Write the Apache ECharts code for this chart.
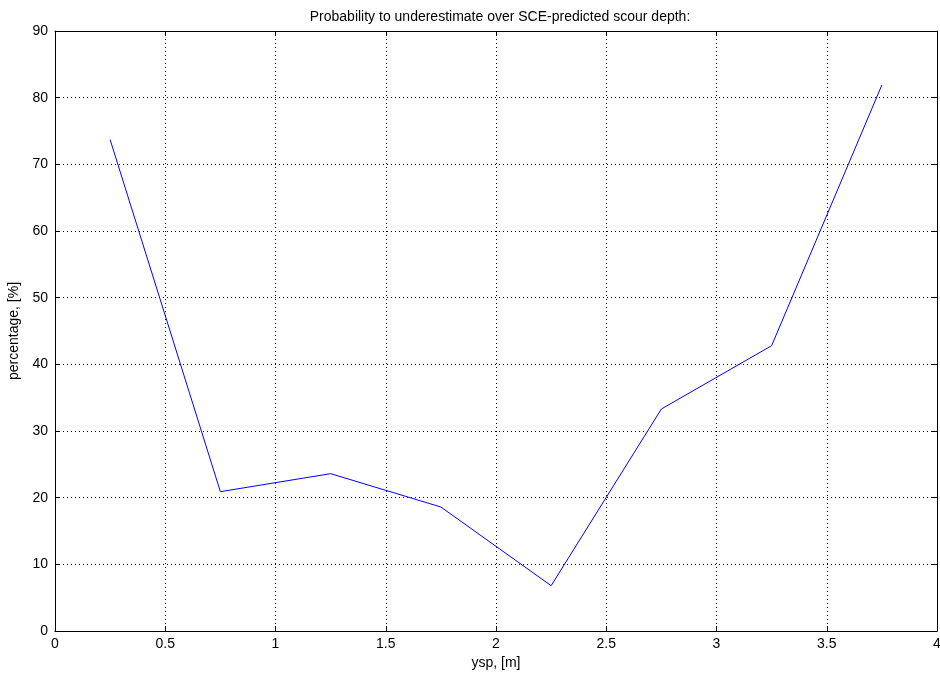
<!DOCTYPE html>
<html><head><meta charset="utf-8">
<script src="https://cdn.jsdelivr.net/npm/echarts@6/dist/echarts.min.js"></script>
<style>html,body{margin:0;padding:0;background:#fff}#c{width:940px;height:675px}</style>
</head><body><div id="c"></div>
<script>
var xValues = [0.25, 0.75, 1.25, 1.75, 2.25, 2.75, 3.25, 3.75];
var yValues = [73.7, 20.9, 23.6, 18.6, 6.8, 33.3, 42.8, 81.9];
var titleText = 'Probability to underestimate over SCE-predicted scour depth:';
var xName = 'ysp, [m]';
var yName = 'percentage, [%]';

var font = '"Liberation Sans", Arial, sans-serif';
var chart = echarts.init(document.getElementById('c'), null, {renderer: 'canvas'});
var data = xValues.map(function (x, i) { return [x, yValues[i]]; });
function axisBase(show) {
  return {
    axisLine: {show: true, onZero: false, lineStyle: {color: '#000', width: 1}},
    axisTick: {show: true, inside: true, length: 5, lineStyle: {color: '#000'}},
    axisLabel: {show: show, color: '#000', fontFamily: font, fontSize: 14},
    splitLine: {show: false}
  };
}
var xb = Object.assign(axisBase(true), {
  type: 'value', min: 0, max: 4, interval: 0.5, position: 'bottom',
  name: xName, nameLocation: 'middle', nameGap: 25,
  nameTextStyle: {color: '#000', fontFamily: font, fontSize: 14},
  splitLine: {show: true, lineStyle: {color: '#000', type: [1, 3], width: 1}}
});
xb.axisLabel.margin = 6;
var xt = Object.assign(axisBase(false), {type: 'value', min: 0, max: 4, interval: 0.5, position: 'top'});
var yl = Object.assign(axisBase(true), {
  type: 'value', min: 0, max: 90, interval: 10, position: 'left',
  name: yName, nameLocation: 'middle', nameGap: 30,
  nameTextStyle: {color: '#000', fontFamily: font, fontSize: 14},
  splitLine: {show: true, lineStyle: {color: '#000', type: [1, 3], width: 1}}
});
yl.axisLabel.margin = 7;
var yr = Object.assign(axisBase(false), {type: 'value', min: 0, max: 90, interval: 10, position: 'right'});
chart.setOption({
  backgroundColor: '#fff',
  animation: false,
  title: {text: titleText, left: 495, top: 5, textAlign: 'center',
    textStyle: {color: '#000', fontFamily: font, fontSize: 14, fontWeight: 'normal'}},
  grid: {left: 55, right: 3, top: 31, bottom: 44, containLabel: false, outerBoundsMode: 'none'},
  xAxis: [xb, xt],
  yAxis: [yl, yr],
  series: [{
    type: 'line', data: data, xAxisIndex: 0, yAxisIndex: 0,
    symbol: 'none', lineStyle: {color: '#0000ff', width: 1}
  }]
});
</script></body></html>
